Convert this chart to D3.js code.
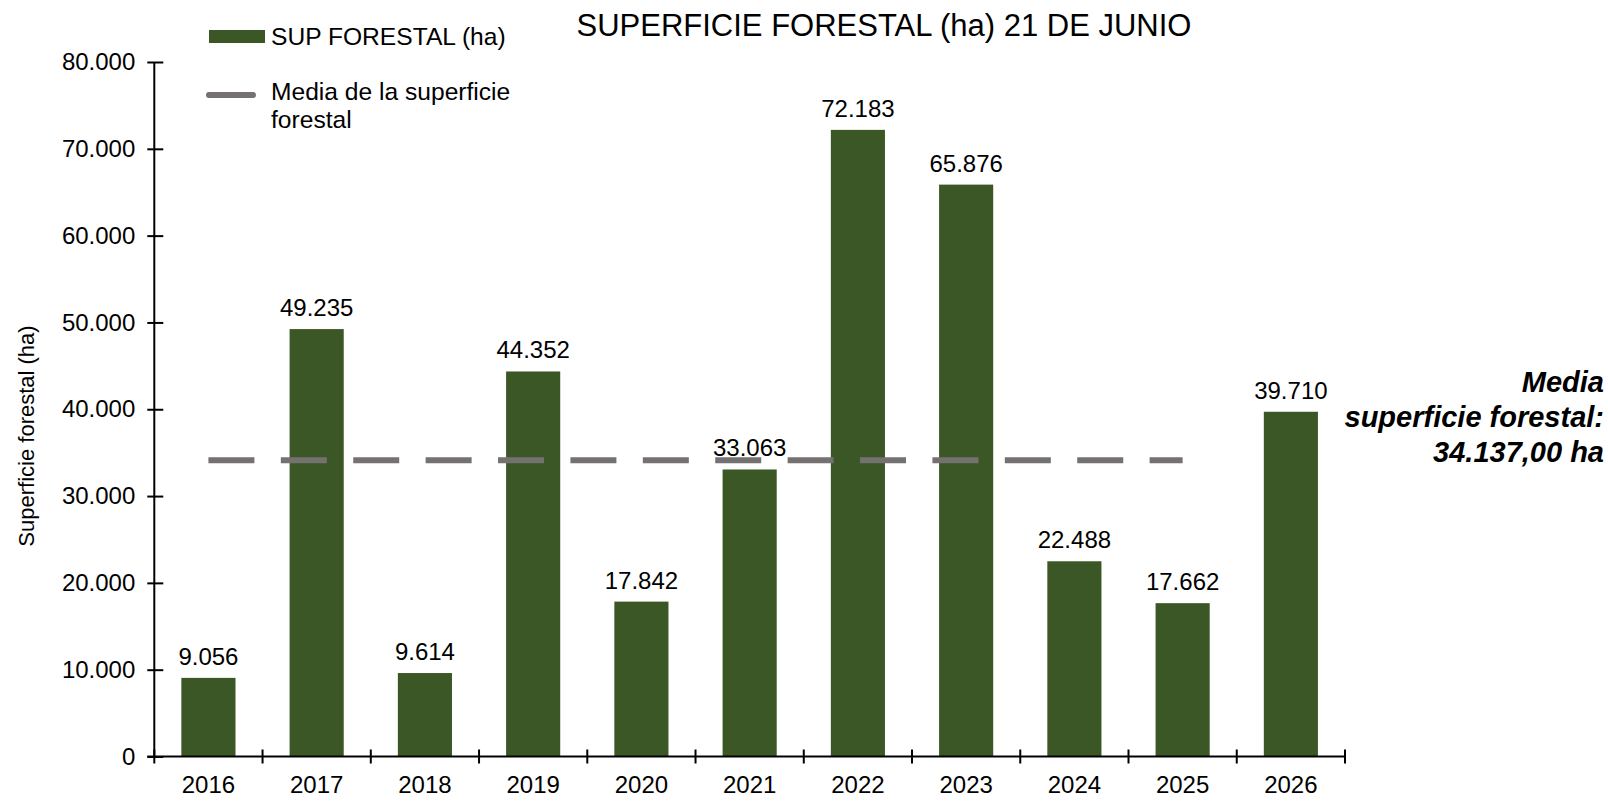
<!DOCTYPE html>
<html>
<head>
<meta charset="utf-8">
<script src="https://cdn.jsdelivr.net/npm/d3@7"></script>
<style>
  body { margin: 0; background: #fff; }
  text { font-family: "Liberation Sans", Arial, sans-serif; fill: #000; }
</style>
</head>
<body>
<div id="chart"></div>
<script>
var width = 1608;
var height = 801;

// data
var years = ["2016", "2017", "2018", "2019", "2020", "2021", "2022", "2023", "2024", "2025", "2026"];
var surface = [9056, 49235, 9614, 44352, 17842, 33063, 72183, 65876, 22488, 17662, 39710];
var meanYears = ["2016", "2025"];
var meanValue = 34137;
var yTicks = [0, 10000, 20000, 30000, 40000, 50000, 60000, 70000, 80000];

var barColor = '#3b5725';
var meanColor = '#767171';

var es = d3.formatLocale({ decimal: ",", thousands: ".", grouping: [3], currency: ["", " €"] });
var fmt = es.format(",d");
var fmt2 = es.format(",.2f");

var plotLeft = 154.3, plotRight = 1345, plotTop = 62, plotBottom = 756.5;

var x = d3.scaleBand()
    .domain(years)
    .range([plotLeft, plotRight])
    .paddingInner(0.5)
    .paddingOuter(0.25);

var y = d3.scaleLinear()
    .domain([0, 80000])
    .range([plotBottom, plotTop]);

var svg = d3.select("#chart")
    .append("svg")
    .attr("width", width)
    .attr("height", height);

// bars
svg.selectAll("rect.bar")
    .data(surface)
    .enter()
    .append("rect")
    .attr("class", "bar")
    .attr("x", function (d, i) { return x(years[i]); })
    .attr("y", function (d) { return y(d); })
    .attr("width", x.bandwidth())
    .attr("height", function (d) { return y(0) - y(d); })
    .style("fill", barColor);

// mean line
svg.append("line")
    .attr("x1", x(meanYears[0]) + x.bandwidth() / 2)
    .attr("x2", x(meanYears[1]) + x.bandwidth() / 2)
    .attr("y1", y(meanValue))
    .attr("y2", y(meanValue))
    .style("stroke", meanColor)
    .style("stroke-width", 6)
    .style("stroke-dasharray", "46,26.4");

// value labels
svg.selectAll("text.val")
    .data(surface)
    .enter()
    .append("text")
    .attr("class", "val")
    .attr("x", function (d, i) { return x(years[i]) + x.bandwidth() / 2; })
    .attr("y", function (d) { return y(d) - 13; })
    .attr("text-anchor", "middle")
    .style("font-size", "24px")
    .text(function (d) { return fmt(d); });

// y axis
var yAxis = d3.axisLeft(y)
    .tickValues(yTicks)
    .tickSize(0)
    .tickPadding(19)
    .tickFormat(function (d) { return fmt(d); });

var gy = svg.append("g")
    .attr("transform", "translate(" + plotLeft + ",0)")
    .call(yAxis);
gy.select(".domain").remove();
gy.selectAll("text").style("font-size", "24px").style("font-family", "'Liberation Sans', Arial, sans-serif");
gy.selectAll(".tick").append("line")
    .attr("x1", -7).attr("x2", 9)
    .style("stroke", "#000").style("stroke-width", 2);
gy.append("line")
    .attr("x1", 0).attr("x2", 0)
    .attr("y1", plotTop).attr("y2", plotBottom)
    .style("stroke", "#000").style("stroke-width", 2);

// x axis
var gx = svg.append("g")
    .attr("transform", "translate(0," + plotBottom + ")");
gx.append("line")
    .attr("x1", plotLeft - 7).attr("x2", plotRight)
    .style("stroke", "#000").style("stroke-width", 2);
var bounds = years.map(function (d) { return x(d) - x.step() * 0.25; }).concat([plotRight]);
gx.selectAll("line.tk")
    .data(bounds)
    .enter()
    .append("line")
    .attr("class", "tk")
    .attr("x1", function (d) { return d; })
    .attr("x2", function (d) { return d; })
    .attr("y1", -7).attr("y2", 7)
    .style("stroke", "#000").style("stroke-width", 2);
gx.selectAll("text")
    .data(years)
    .enter()
    .append("text")
    .attr("x", function (d) { return x(d) + x.bandwidth() / 2; })
    .attr("y", 36.5)
    .attr("text-anchor", "middle")
    .style("font-size", "24px")
    .text(function (d) { return d; });

// y title
svg.append("text")
    .attr("transform", "translate(34,436) rotate(-90)")
    .attr("text-anchor", "middle")
    .style("font-size", "22px")
    .text("Superficie forestal (ha)");

// title
svg.append("text")
    .attr("x", 884)
    .attr("y", 36)
    .attr("text-anchor", "middle")
    .style("font-size", "31px")
    .text("SUPERFICIE FORESTAL (ha) 21 DE JUNIO");

// legend
svg.append("rect")
    .attr("x", 209).attr("y", 30)
    .attr("width", 56).attr("height", 13)
    .style("fill", barColor);
svg.append("text")
    .attr("x", 271).attr("y", 45)
    .style("font-size", "24.6px")
    .text("SUP FORESTAL (ha)");
svg.append("line")
    .attr("x1", 209).attr("x2", 253)
    .attr("y1", 95).attr("y2", 95)
    .style("stroke", meanColor)
    .style("stroke-width", 6)
    .style("stroke-linecap", "round");
var lg = svg.append("text")
    .attr("x", 271).attr("y", 100)
    .style("font-size", "24.6px");
lg.append("tspan").attr("x", 271).text("Media de la superficie");
lg.append("tspan").attr("x", 271).attr("dy", 28).text("forestal");

// mean annotation
var ann = svg.append("text")
    .attr("x", 1604).attr("y", 392)
    .attr("text-anchor", "end")
    .style("font-size", "29px")
    .style("font-weight", "bold")
    .style("font-style", "italic");
ann.append("tspan").attr("x", 1604).text("Media");
ann.append("tspan").attr("x", 1604).attr("dy", 35).text("superficie forestal:");
ann.append("tspan").attr("x", 1604).attr("dy", 35).text(fmt2(meanValue) + " ha");
</script>
</body>
</html>
